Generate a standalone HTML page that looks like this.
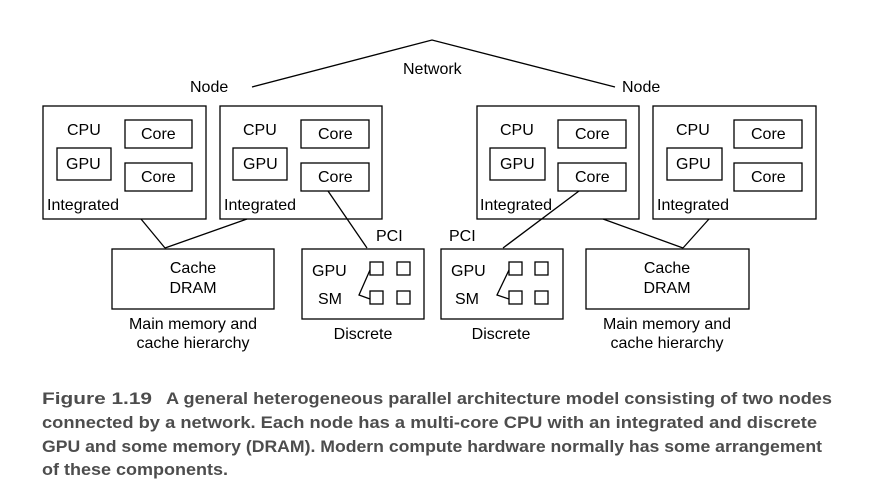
<!DOCTYPE html>
<html><head><meta charset="utf-8"><style>
html,body{margin:0;padding:0;background:#fff;}
svg{display:block;}
text{font-family:"Liberation Sans",Arial,sans-serif;font-size:16px;fill:#000;}
.c{font-weight:bold;font-size:17px;fill:#4d4d4d;}
</style></head><body>
<svg width="880" height="490" viewBox="0 0 880 490" xmlns="http://www.w3.org/2000/svg">
<g fill="none" stroke="#000" stroke-width="1.3">
<polyline points="252,87 432,40 615,87"/>
<rect x="43" y="106" width="163" height="113"/>
<rect x="125" y="120" width="67" height="28"/>
<rect x="125" y="163" width="67" height="28"/>
<rect x="57" y="148" width="54" height="32"/>
<rect x="220" y="106" width="162" height="113"/>
<rect x="301" y="120" width="68" height="28"/>
<rect x="301" y="163" width="68" height="28"/>
<rect x="233" y="148" width="54" height="32"/>
<rect x="477" y="106" width="162" height="113"/>
<rect x="558" y="120" width="68" height="28"/>
<rect x="558" y="163" width="68" height="28"/>
<rect x="490" y="148" width="55" height="32"/>
<rect x="653" y="106" width="163" height="113"/>
<rect x="734" y="120" width="68" height="28"/>
<rect x="734" y="163" width="68" height="28"/>
<rect x="667" y="148" width="55" height="32"/>
<rect x="112" y="249" width="162" height="60"/>
<rect x="586" y="249" width="163" height="60"/>
<rect x="302" y="249" width="122" height="70"/>
<rect x="441" y="249" width="122" height="70"/>
<rect x="370" y="262" width="13" height="13"/><rect x="397" y="262" width="13" height="13"/>
<rect x="370" y="291" width="13" height="13"/><rect x="397" y="291" width="13" height="13"/>
<rect x="509" y="262" width="13" height="13"/><rect x="535" y="262" width="13" height="13"/>
<rect x="509" y="291" width="13" height="13"/><rect x="535" y="291" width="13" height="13"/>
<polyline points="370,270 359,295 370,299"/>
<polyline points="509,270 497,295 509,299"/>
<line x1="141" y1="219" x2="165" y2="248"/>
<line x1="247" y1="219" x2="165" y2="248"/>
<line x1="328" y1="191" x2="367" y2="248"/>
<line x1="579" y1="191" x2="503" y2="248"/>
<line x1="603" y1="219" x2="683" y2="248"/>
<line x1="709" y1="219" x2="683" y2="248"/>
</g>
<text x="403" y="74">Network</text>
<text x="190" y="92">Node</text>
<text x="622" y="92">Node</text>
<text x="67" y="135">CPU</text><text x="141" y="139">Core</text><text x="141" y="182">Core</text><text x="66" y="169">GPU</text><text x="47" y="210">Integrated</text>
<text x="243" y="135">CPU</text><text x="318" y="139">Core</text><text x="318" y="182">Core</text><text x="243" y="169">GPU</text><text x="224" y="210">Integrated</text>
<text x="500" y="135">CPU</text><text x="575" y="139">Core</text><text x="575" y="182">Core</text><text x="500" y="169">GPU</text><text x="480" y="210">Integrated</text>
<text x="676" y="135">CPU</text><text x="751" y="139">Core</text><text x="751" y="182">Core</text><text x="676" y="169">GPU</text><text x="657" y="210">Integrated</text>
<text x="193" y="273" text-anchor="middle">Cache</text><text x="193" y="293" text-anchor="middle">DRAM</text>
<text x="667" y="273" text-anchor="middle">Cache</text><text x="667" y="293" text-anchor="middle">DRAM</text>
<text x="376" y="241">PCI</text><text x="449" y="241">PCI</text>
<text x="312" y="276">GPU</text><text x="318" y="304">SM</text>
<text x="451" y="276">GPU</text><text x="455" y="304">SM</text>
<text x="363" y="339" text-anchor="middle">Discrete</text>
<text x="501" y="339" text-anchor="middle">Discrete</text>
<text x="193" y="329" text-anchor="middle">Main memory and</text>
<text x="193" y="348" text-anchor="middle">cache hierarchy</text>
<text x="667" y="329" text-anchor="middle">Main memory and</text>
<text x="667" y="348" text-anchor="middle">cache hierarchy</text>
<text class="c" x="42" y="404" textLength="110" lengthAdjust="spacingAndGlyphs">Figure 1.19</text>
<text class="c" x="166" y="404" textLength="666" lengthAdjust="spacingAndGlyphs">A general heterogeneous parallel architecture model consisting of two nodes</text>
<text class="c" x="42" y="428" textLength="775" lengthAdjust="spacingAndGlyphs">connected by a network. Each node has a multi-core CPU with an integrated and discrete</text>
<text class="c" x="42" y="452" textLength="780" lengthAdjust="spacingAndGlyphs">GPU and some memory (DRAM). Modern compute hardware normally has some arrangement</text>
<text class="c" x="42" y="475" textLength="186" lengthAdjust="spacingAndGlyphs">of these components.</text>
</svg>
</body></html>
